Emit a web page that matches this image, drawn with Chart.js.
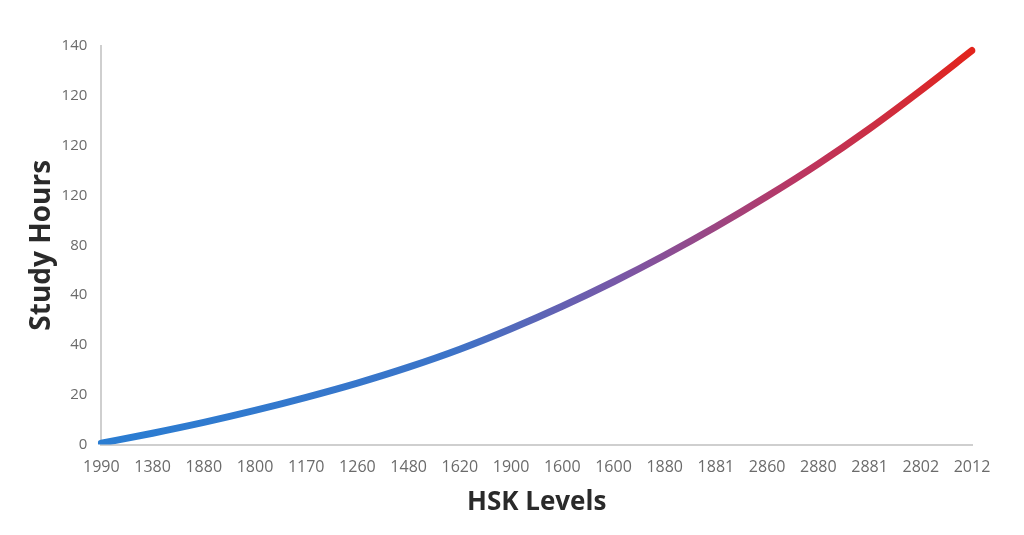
<!DOCTYPE html>
<html>
<head>
<meta charset="utf-8">
<script src="https://cdn.jsdelivr.net/npm/chart.js@4/dist/chart.umd.min.js"></script>
<style>
  html, body { margin: 0; padding: 0; background: #fff; }
  #wrap { width: 1024px; height: 535px; }
</style>
</head>
<body>
<div id="wrap"><canvas id="hoursChart"></canvas></div>
<script>
// Data
const levels = ['1990', '1380', '1880', '1800', '1170', '1260', '1480', '1620', '1900',
                '1600', '1600', '1880', '1881', '2860', '2880', '2881', '2802', '2012'];
const hours = [0.5, 4.0, 7.8, 12.0, 16.6, 21.6, 27.2, 33.5, 40.7,
               48.6, 57.2, 66.5, 76.5, 87.2, 98.6, 111.0, 124.4, 138.4];
const yTickLabels = ['0', '20', '40', '40', '80', '120', '120', '120', '140'];

const colors = {
    tick: '#6b6b6b',
    title: '#2a2a2a',
    axis: '#cfcfcf'
};

function lineGradient(context) {
    const chart = context.chart;
    const area = chart.chartArea;
    if (!area) return '#2a7dd2';
    const g = chart.ctx.createLinearGradient(area.left, 0, area.right, 0);
    g.addColorStop(0, '#2a7dd2');
    g.addColorStop(0.4, '#3c74c8');
    g.addColorStop(0.6, '#7a57a6');
    g.addColorStop(0.8, '#ba3662');
    g.addColorStop(1, '#e2241c');
    return g;
}

const ctx = document.getElementById('hoursChart').getContext('2d');

new Chart(ctx, {
    type: 'line',
    data: {
        labels: levels,
        datasets: [{
            data: hours,
            borderColor: lineGradient,
            borderWidth: 7,
            borderCapStyle: 'round',
            borderJoinStyle: 'round',
            cubicInterpolationMode: 'monotone',
            pointRadius: 0,
            fill: false
        }]
    },
    options: {
        responsive: true,
        maintainAspectRatio: false,
        animation: false,
        layout: {
            padding: { top: 46, right: 52, left: 25, bottom: 17 }
        },
        plugins: {
            legend: { display: false },
            tooltip: { enabled: false }
        },
        scales: {
            x: {
                offset: false,
                grid: { display: false, drawTicks: false },
                border: { color: colors.axis, width: 2 },
                ticks: {
                    color: colors.tick,
                    font: { family: 'Open Sans', size: 16 },
                    maxRotation: 0,
                    autoSkip: false,
                    padding: 13
                },
                title: {
                    display: true,
                    text: 'HSK Levels',
                    color: colors.title,
                    font: { family: 'Open Sans', size: 26, weight: 'bold' },
                    padding: { top: -3, bottom: 0 }
                }
            },
            y: {
                min: 0,
                max: 140,
                grid: { display: false, drawTicks: false },
                border: { color: colors.axis, width: 2 },
                ticks: {
                    stepSize: 17.5,
                    color: colors.tick,
                    font: { family: 'Open Sans', size: 15 },
                    padding: 14,
                    callback: function(value, index) {
                        return yTickLabels[index];
                    }
                },
                title: {
                    display: true,
                    text: 'Study Hours',
                    color: colors.title,
                    font: { family: 'Open Sans', size: 28, weight: 'bold' },
                    padding: { top: 0, bottom: -11 }
                }
            }
        }
    }
});
</script>
</body>
</html>
